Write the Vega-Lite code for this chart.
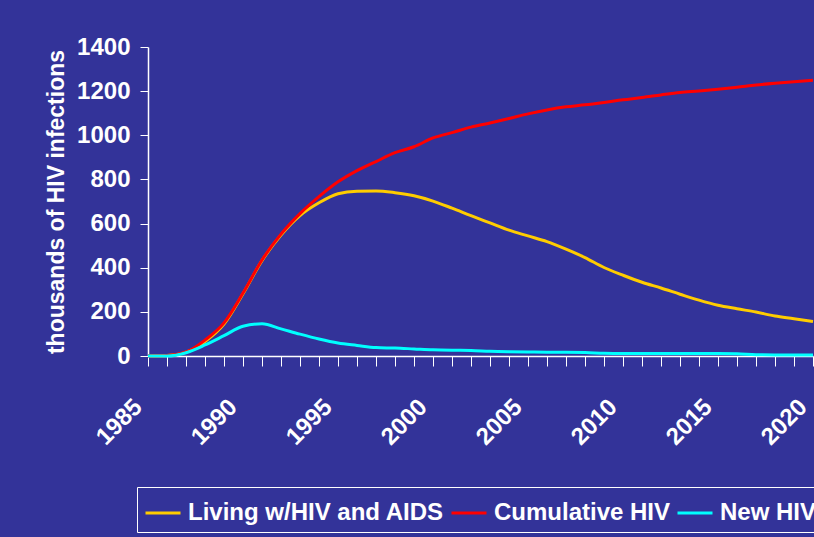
{
  "$schema": "https://vega.github.io/schema/vega-lite/v6.json",
  "autosize": {"type": "none"},
  "width": 665,
  "height": 309,
  "padding": {"left": 148, "top": 47, "right": 1, "bottom": 181},
  "background": "#333399",
  "config": {
    "view": {"stroke": null},
    "font": "Liberation Sans",
    "axis": {"grid": false, "domainColor": "white", "domainWidth": 1.5, "tickColor": "white", "tickWidth": 1, "labelColor": "white", "labelFont": "Liberation Sans", "labelFontWeight": "bold", "titleColor": "white", "titleFont": "Liberation Sans", "titleFontWeight": "bold"}
  },
  "data": {"values": [
    {"year":1985,"series":"Living w/HIV and AIDS","value":0},
    {"year":1986,"series":"Living w/HIV and AIDS","value":2},
    {"year":1987,"series":"Living w/HIV and AIDS","value":17},
    {"year":1988,"series":"Living w/HIV and AIDS","value":66},
    {"year":1989,"series":"Living w/HIV and AIDS","value":145},
    {"year":1990,"series":"Living w/HIV and AIDS","value":282},
    {"year":1991,"series":"Living w/HIV and AIDS","value":432},
    {"year":1992,"series":"Living w/HIV and AIDS","value":548},
    {"year":1993,"series":"Living w/HIV and AIDS","value":636},
    {"year":1994,"series":"Living w/HIV and AIDS","value":694},
    {"year":1995,"series":"Living w/HIV and AIDS","value":735},
    {"year":1996,"series":"Living w/HIV and AIDS","value":747},
    {"year":1997,"series":"Living w/HIV and AIDS","value":748},
    {"year":1998,"series":"Living w/HIV and AIDS","value":740},
    {"year":1999,"series":"Living w/HIV and AIDS","value":726},
    {"year":2000,"series":"Living w/HIV and AIDS","value":702},
    {"year":2001,"series":"Living w/HIV and AIDS","value":670},
    {"year":2002,"series":"Living w/HIV and AIDS","value":636},
    {"year":2003,"series":"Living w/HIV and AIDS","value":603},
    {"year":2004,"series":"Living w/HIV and AIDS","value":570},
    {"year":2005,"series":"Living w/HIV and AIDS","value":544},
    {"year":2006,"series":"Living w/HIV and AIDS","value":518},
    {"year":2007,"series":"Living w/HIV and AIDS","value":484},
    {"year":2008,"series":"Living w/HIV and AIDS","value":446},
    {"year":2009,"series":"Living w/HIV and AIDS","value":401},
    {"year":2010,"series":"Living w/HIV and AIDS","value":366},
    {"year":2011,"series":"Living w/HIV and AIDS","value":334},
    {"year":2012,"series":"Living w/HIV and AIDS","value":308},
    {"year":2013,"series":"Living w/HIV and AIDS","value":280},
    {"year":2014,"series":"Living w/HIV and AIDS","value":253},
    {"year":2015,"series":"Living w/HIV and AIDS","value":230},
    {"year":2016,"series":"Living w/HIV and AIDS","value":214},
    {"year":2017,"series":"Living w/HIV and AIDS","value":199},
    {"year":2018,"series":"Living w/HIV and AIDS","value":181},
    {"year":2019,"series":"Living w/HIV and AIDS","value":169},
    {"year":2020,"series":"Living w/HIV and AIDS","value":156},
    {"year":1985,"series":"Cumulative HIV","value":0},
    {"year":1986,"series":"Cumulative HIV","value":2},
    {"year":1987,"series":"Cumulative HIV","value":18},
    {"year":1988,"series":"Cumulative HIV","value":72},
    {"year":1989,"series":"Cumulative HIV","value":150},
    {"year":1990,"series":"Cumulative HIV","value":285},
    {"year":1991,"series":"Cumulative HIV","value":435},
    {"year":1992,"series":"Cumulative HIV","value":552},
    {"year":1993,"series":"Cumulative HIV","value":645},
    {"year":1994,"series":"Cumulative HIV","value":722},
    {"year":1995,"series":"Cumulative HIV","value":789},
    {"year":1996,"series":"Cumulative HIV","value":840},
    {"year":1997,"series":"Cumulative HIV","value":881},
    {"year":1998,"series":"Cumulative HIV","value":921},
    {"year":1999,"series":"Cumulative HIV","value":948},
    {"year":2000,"series":"Cumulative HIV","value":988},
    {"year":2001,"series":"Cumulative HIV","value":1012},
    {"year":2002,"series":"Cumulative HIV","value":1037},
    {"year":2003,"series":"Cumulative HIV","value":1056},
    {"year":2004,"series":"Cumulative HIV","value":1076},
    {"year":2005,"series":"Cumulative HIV","value":1097},
    {"year":2006,"series":"Cumulative HIV","value":1115},
    {"year":2007,"series":"Cumulative HIV","value":1129},
    {"year":2008,"series":"Cumulative HIV","value":1138},
    {"year":2009,"series":"Cumulative HIV","value":1149},
    {"year":2010,"series":"Cumulative HIV","value":1161},
    {"year":2011,"series":"Cumulative HIV","value":1171},
    {"year":2012,"series":"Cumulative HIV","value":1183},
    {"year":2013,"series":"Cumulative HIV","value":1194},
    {"year":2014,"series":"Cumulative HIV","value":1201},
    {"year":2015,"series":"Cumulative HIV","value":1209},
    {"year":2016,"series":"Cumulative HIV","value":1218},
    {"year":2017,"series":"Cumulative HIV","value":1228},
    {"year":2018,"series":"Cumulative HIV","value":1236},
    {"year":2019,"series":"Cumulative HIV","value":1243},
    {"year":2020,"series":"Cumulative HIV","value":1249},
    {"year":1985,"series":"New HIV","value":0},
    {"year":1986,"series":"New HIV","value":0},
    {"year":1987,"series":"New HIV","value":15},
    {"year":1988,"series":"New HIV","value":50},
    {"year":1989,"series":"New HIV","value":92},
    {"year":1990,"series":"New HIV","value":135},
    {"year":1991,"series":"New HIV","value":146},
    {"year":1992,"series":"New HIV","value":123},
    {"year":1993,"series":"New HIV","value":99},
    {"year":1994,"series":"New HIV","value":77},
    {"year":1995,"series":"New HIV","value":59},
    {"year":1996,"series":"New HIV","value":48},
    {"year":1997,"series":"New HIV","value":38},
    {"year":1998,"series":"New HIV","value":36},
    {"year":1999,"series":"New HIV","value":32},
    {"year":2000,"series":"New HIV","value":28},
    {"year":2001,"series":"New HIV","value":26},
    {"year":2002,"series":"New HIV","value":25},
    {"year":2003,"series":"New HIV","value":21},
    {"year":2004,"series":"New HIV","value":19},
    {"year":2005,"series":"New HIV","value":18},
    {"year":2006,"series":"New HIV","value":17},
    {"year":2007,"series":"New HIV","value":17},
    {"year":2008,"series":"New HIV","value":16},
    {"year":2009,"series":"New HIV","value":12},
    {"year":2010,"series":"New HIV","value":11},
    {"year":2011,"series":"New HIV","value":11},
    {"year":2012,"series":"New HIV","value":11},
    {"year":2013,"series":"New HIV","value":11},
    {"year":2014,"series":"New HIV","value":11},
    {"year":2015,"series":"New HIV","value":11},
    {"year":2016,"series":"New HIV","value":10},
    {"year":2017,"series":"New HIV","value":6},
    {"year":2018,"series":"New HIV","value":5},
    {"year":2019,"series":"New HIV","value":5},
    {"year":2020,"series":"New HIV","value":5}
  ]},
  "mark": {"type": "line", "strokeWidth": 3, "interpolate": "monotone"},
  "encoding": {
    "x": {
      "field": "year", "type": "quantitative",
      "scale": {"domain": [1985, 2020], "nice": false, "zero": false},
      "axis": {
        "title": null,
        "values": [1985,1986,1987,1988,1989,1990,1991,1992,1993,1994,1995,1996,1997,1998,1999,2000,2001,2002,2003,2004,2005,2006,2007,2008,2009,2010,2011,2012,2013,2014,2015,2016,2017,2018,2019,2020],
        "format": "d",
        "labelExpr": "datum.value % 5 == 0 ? datum.label : ''",
        "labelAngle": -45,
        "labelAlign": "right",
        "labelBaseline": "middle",
        "labelFontSize": 24,
        "labelPadding": 37,
        "labelOffset": -10,
        "labelOverlap": false,
        "labelFlush": false,
        "labelBound": false,
        "tickSize": 10
      }
    },
    "y": {
      "field": "value", "type": "quantitative",
      "scale": {"domain": [0, 1400], "nice": false},
      "axis": {
        "title": "thousands of HIV infections",
        "titleFontSize": 23,
        "titlePadding": 8,
        "values": [0,200,400,600,800,1000,1200,1400],
        "format": "d",
        "labelFontSize": 24,
        "labelPadding": 10,
        "tickSize": 8
      }
    },
    "color": {
      "field": "series", "type": "nominal",
      "scale": {"domain": ["Living w/HIV and AIDS", "Cumulative HIV", "New HIV"], "range": ["#FFCC00", "#FF0000", "#00FFFF"]},
      "legend": {
        "title": null,
        "orient": "none",
        "legendX": -11,
        "legendY": 440,
        "direction": "horizontal",
        "symbolType": "stroke",
        "symbolSize": 1225,
        "symbolStrokeWidth": 3,
        "labelColor": "white",
        "labelFont": "Liberation Sans",
        "labelFontWeight": "bold",
        "labelFontSize": 24,
        "labelOffset": 6,
        "labelLimit": 0,
        "columnPadding": 0,
        "padding": 7,
        "strokeColor": "white"
      }
    }
  }
}
